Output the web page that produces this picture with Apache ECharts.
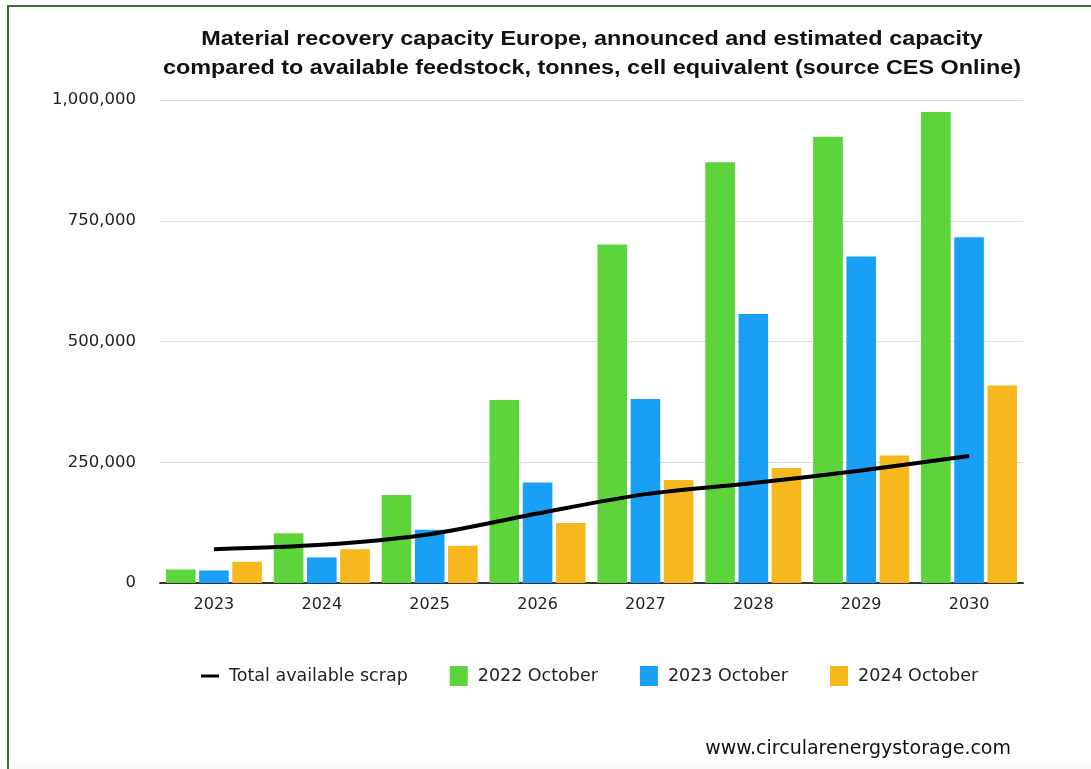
<!DOCTYPE html>
<html>
<head>
<meta charset="utf-8">
<script src="https://cdn.jsdelivr.net/npm/echarts@6/dist/echarts.min.js"></script>
<style>
html,body{margin:0;padding:0;background:#fff;}
#chart{width:1091px;height:769px;}
</style>
</head>
<body>
<div id="chart"></div>
<script>
var years = ['2023','2024','2025','2026','2027','2028','2029','2030'];
var scrapTotal = [70000, 79000, 101000, 144000, 184000, 207000, 233000, 263000];
var oct2022 = [28000, 103000, 182000, 379000, 701000, 871000, 924000, 975000];
var oct2023 = [26000, 53000, 110000, 208000, 381000, 557000, 676000, 716000];
var oct2024 = [44000, 70000, 77000, 124000, 213000, 238000, 264000, 409000];
var yTicks = [0, 250000, 500000, 750000, 1000000];
var titleText = 'Material recovery capacity Europe, announced and estimated capacity\ncompared to available feedstock, tonnes, cell equivalent (source CES Online)';

var chart = echarts.init(document.getElementById('chart'), null, {renderer:'canvas'});
var font = 'DejaVu Sans, Liberation Sans, Arial, sans-serif';
var titleFont = 'Liberation Sans, Arial, Helvetica, sans-serif';
chart.setOption({
  animation:false,
  backgroundColor:'#ffffff',
  grid:{left:160, right:68, top:100, bottom:186, containLabel:false},
  legend:{
    left:196, top:661, itemWidth:18, itemHeight:20, itemGap:42,
    textStyle:{fontFamily:font, fontSize:17.5, color:'#222', padding:[0,0,0,5]},
    data:[
      {name:'Total available scrap', icon:'path://M0,0L18,0L18,3L0,3Z'},
      {name:'2022 October', icon:'rect'},
      {name:'2023 October', icon:'rect'},
      {name:'2024 October', icon:'rect'}
    ]
  },
  xAxis:{
    type:'category', data:years,
    axisLine:{lineStyle:{color:'#333', width:2}},
    axisTick:{show:false},
    axisLabel:{fontFamily:font, fontSize:16, color:'#222', margin:14}
  },
  yAxis:{
    type:'value', min:0, max:1000000, interval:250000,
    axisLine:{show:false}, axisTick:{show:false},
    splitLine:{lineStyle:{color:'#dcdcdc', width:1}},
    axisLabel:{fontFamily:font, fontSize:16.5, color:'#222', margin:24,
      formatter:function(v){ return yTicks.indexOf(v) >= 0 ? v.toLocaleString('en-US') : ''; }}
  },
  series:[
    {name:'2022 October', type:'bar', data:oct2022, itemStyle:{color:'#5cd43a'}, barGap:'12%', barCategoryGap:'11%'},
    {name:'2023 October', type:'bar', data:oct2023, itemStyle:{color:'#1a9ff6'}},
    {name:'2024 October', type:'bar', data:oct2024, itemStyle:{color:'#f6b81c'}},
    {name:'Total available scrap', type:'line', data:scrapTotal, smooth:0.3, symbol:'none',
      lineStyle:{color:'#000', width:4}, itemStyle:{color:'#000'}, z:10}
  ],
  graphic:[
    {type:'rect', shape:{x:0, y:763, width:1091, height:6}, style:{fill:'#fbfaf4'}, silent:true},
    {type:'rect', shape:{x:7, y:5, width:1084, height:2}, style:{fill:'#3e6b36'}},
    {type:'rect', shape:{x:7, y:5, width:2, height:764}, style:{fill:'#3e6b36'}},
    {type:'text', x:592, y:25, scaleX:1.2, style:{text:titleText, align:'center', verticalAlign:'top',
      fontFamily:titleFont, fontSize:19.5, fontWeight:'bold', fill:'#111', lineHeight:29}},
    {type:'text', right:80, top:740, style:{text:'www.circularenergystorage.com', fontFamily:font, fontSize:19, fill:'#111'}}
  ]
});
</script>
</body>
</html>
